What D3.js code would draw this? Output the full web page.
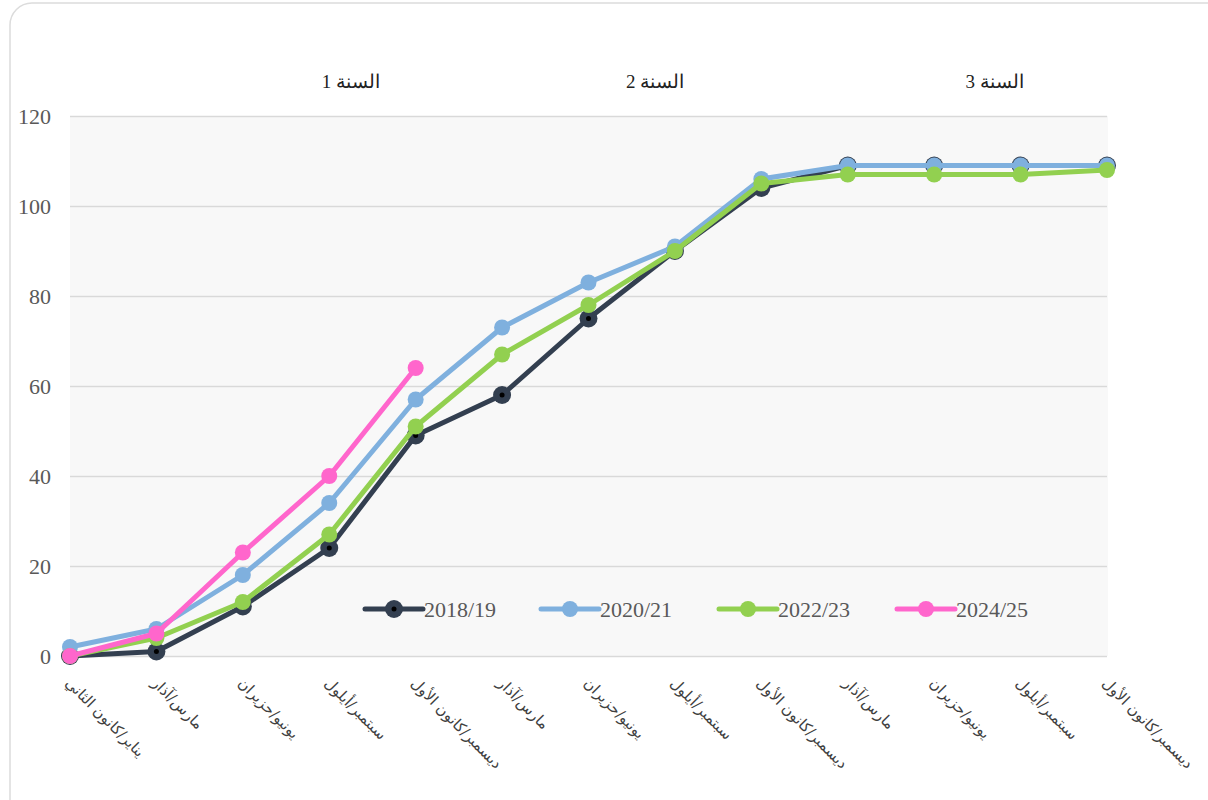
<!DOCTYPE html>
<html><head><meta charset="utf-8">
<script src="https://cdn.jsdelivr.net/npm/d3@7"></script>
<style>
html,body{margin:0;padding:0;background:#fff;}
svg{display:block;font-family:"Liberation Serif","DejaVu Serif",serif;}
</style></head>
<body><svg id="c" width="1208" height="800"></svg>
<script>
const categories = ["يناير/كانون الثاني","مارس/آذار","يونيو/حزيران","سبتمبر/أيلول","ديسمبر/كانون الأول","مارس/آذار","يونيو/حزيران","سبتمبر/أيلول","ديسمبر/كانون الأول","مارس/آذار","يونيو/حزيران","سبتمبر/أيلول","ديسمبر/كانون الأول"];
const s2018 = [0,1,11,24,49,58,75,90,104,109,109,109,109];
const s2020 = [2,6,18,34,57,73,83,91,106,109,109,109,109];
const s2022 = [0,4,12,27,51,67,78,90,105,107,107,107,108];
const s2024 = [0,5,23,40,64];
const seriesNames = ["2018/19","2020/21","2022/23","2024/25"];
const seriesColors = ["#333f50","#7fb0de","#92d050","#ff66cc"];
const yTicks = [0,20,40,60,80,100,120];
const yearLabels = ["السنة 1","السنة 2","السنة 3"];
const yearLabelPos = [3.25,6.77,10.7];

const svg = d3.select("#c");
svg.append("rect").attr("x",10).attr("y",3).attr("width",1230).attr("height",830)
  .attr("rx",22).attr("fill","#fff").attr("stroke","#dcdcdc").attr("stroke-width",1.5);

const x = d3.scaleLinear().domain([0,categories.length-1]).range([70,1107]);
const y = d3.scaleLinear().domain([0,120]).range([656,116]);

svg.append("rect").attr("x",x(0)).attr("y",y(120)).attr("width",x(12)-x(0)+1).attr("height",y(0)-y(120)).attr("fill","#f8f8f8");

const yAxis = d3.axisLeft(y).tickValues(yTicks).tickSize(-(x(12)-x(0))).tickPadding(19);
const gy = svg.append("g").attr("transform",`translate(${x(0)},0)`).call(yAxis);
gy.select(".domain").remove();
gy.selectAll(".tick line").attr("stroke","#d9d9d9").attr("stroke-width",1.5);
gy.selectAll(".tick text").attr("fill","#595959").attr("font-size",22).attr("font-family","Liberation Serif, serif");

const xAxis = d3.axisBottom(x).tickValues(d3.range(categories.length)).tickFormat(i=>categories[i]).tickSize(0);
const gx = svg.append("g").attr("transform",`translate(0,${y(0)})`).call(xAxis);
gx.select(".domain").remove();
gx.selectAll(".tick text").attr("fill","#404040").attr("font-size",15)
  .attr("font-family","DejaVu Sans, sans-serif")
  .attr("text-anchor","start").attr("dy",0).attr("y",0)
  .attr("transform","translate(-6,28) rotate(45)");

svg.append("g").selectAll("text").data(yearLabels).join("text")
  .attr("x",(d,i)=>x(yearLabelPos[i])).attr("y",88).attr("text-anchor","middle")
  .attr("font-size",19).attr("fill","#222").text(d=>d);

const allSeries = [s2018,s2020,s2022,s2024];
const line = d3.line().x((d,i)=>x(i)).y(d=>y(d));
allSeries.forEach((s,k)=>{
  const g = svg.append("g");
  g.append("path").datum(s).attr("d",line).attr("fill","none").attr("stroke",seriesColors[k])
    .attr("stroke-width",5).attr("stroke-linejoin","round");
  g.selectAll("circle").data(s).join("circle").attr("cx",(d,i)=>x(i)).attr("cy",d=>y(d))
    .attr("r",k===0?9:8).attr("fill",seriesColors[k]);
  if(k===0){
    g.selectAll("circle.c").data(s).join("circle").attr("class","c").attr("cx",(d,i)=>x(i)).attr("cy",d=>y(d))
      .attr("r",2.5).attr("fill","#000");
  }
});

const legX = [365,541,719,897];
const lg = svg.append("g");
seriesNames.forEach((n,k)=>{
  const gg = lg.append("g").attr("transform",`translate(${legX[k]},609)`);
  gg.append("line").attr("x1",0).attr("x2",58).attr("stroke",seriesColors[k]).attr("stroke-width",5).attr("stroke-linecap","round");
  gg.append("circle").attr("cx",29).attr("r",k===0?9:8).attr("fill",seriesColors[k]);
  if(k===0) gg.append("circle").attr("cx",29).attr("r",2.5).attr("fill","#000");
  gg.append("text").attr("x",59).attr("y",8).attr("font-size",22).attr("fill","#595959").text(n);
});
</script></body></html>
